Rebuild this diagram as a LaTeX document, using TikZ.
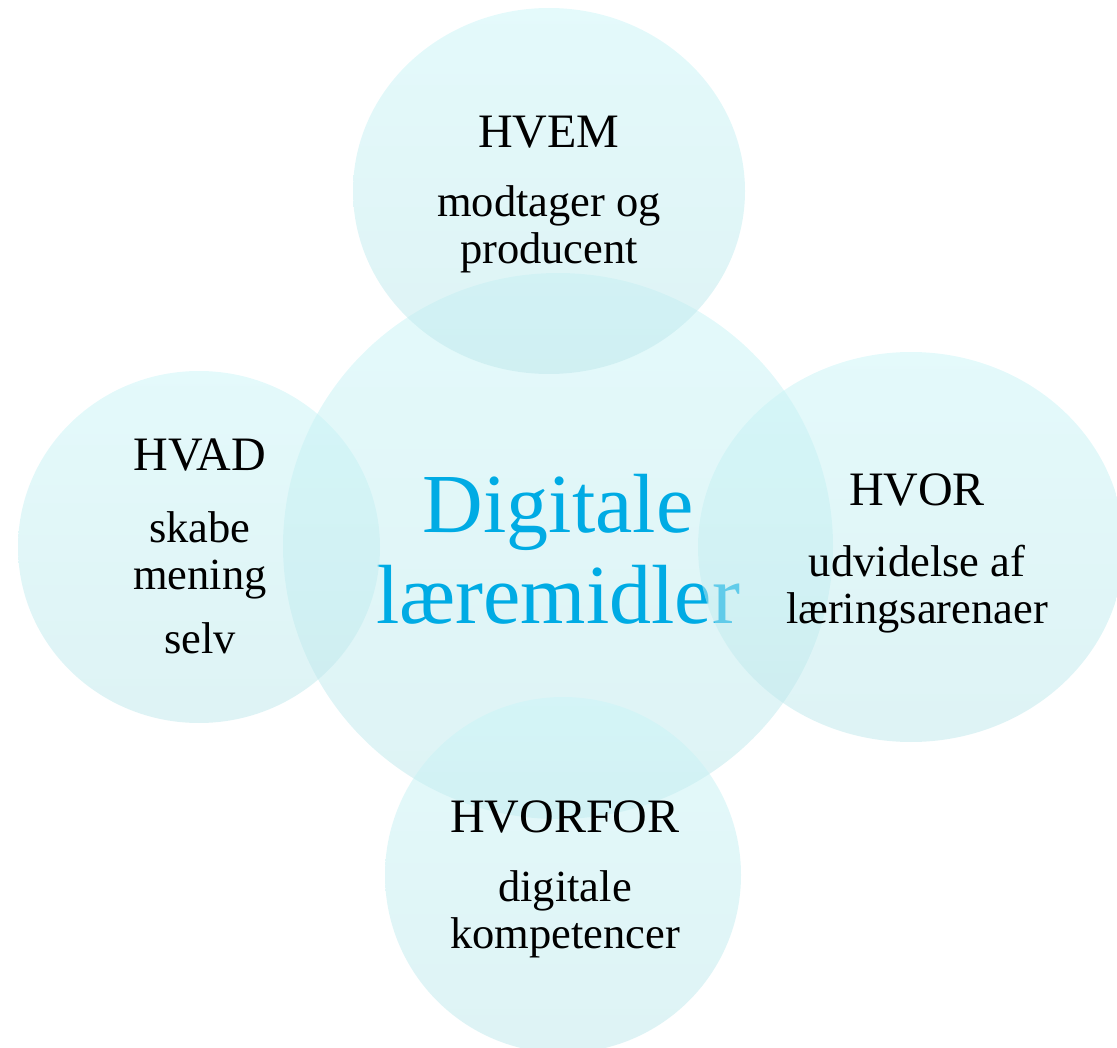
\documentclass[tikz,border=0pt]{standalone}
\usepackage{fontspec}
\setmainfont{Liberation Serif}
\usepackage{tikz}

\definecolor{bubbletop}{RGB}{201,245,247}
\definecolor{bubblebot}{RGB}{189,231,235}
\definecolor{titleblue}{RGB}{0,171,228}

\tikzset{
  bubble/.style={top color=bubbletop, bottom color=bubblebot, fill opacity=0.5, draw=none},
  head/.style={anchor=base, inner sep=0pt, font=\fontsize{48}{50}\selectfont},
  body/.style={anchor=base, inner sep=0pt, align=center, font=\fontsize{44.5}{47}\selectfont},
  big/.style={anchor=base, inner sep=0pt, align=center, text=titleblue, font=\fontsize{84}{91}\selectfont}
}

\begin{document}
\begin{tikzpicture}[x=1pt, y=-1pt]
\useasboundingbox (0,0) rectangle (1117,1048);
\clip (0,0) rectangle (1117,1048);
% centre bubble and its title
\shade[bubble] (558,546) ellipse [x radius=275, y radius=273];
\node[big] (midt) at (558,623) {Digitale\\læremidler};
% outer bubbles
\shade[bubble] (549,191) ellipse [x radius=196, y radius=183];
\shade[bubble] (199,547) ellipse [x radius=181, y radius=176];
\shade[bubble] (911,547) ellipse [x radius=213, y radius=195];
\shade[bubble] (563,875) ellipse [x radius=178, y radius=178];
% texts (base = last line)
\node[head] (hvem) at (549,148) {HVEM};
\node[body] (hvemtxt) at (549,264) {modtager og\\producent};
\node[head] (hvad) at (200,471) {HVAD};
\node[body] (hvadtxt) at (200,653) {skabe\\mening\\[17pt]selv};
\node[head] (hvor) at (917,505) {HVOR};
\node[body] (hvortxt) at (917,623) {udvidelse af\\læringsarenaer};
\node[head] (hvorfor) at (565,832) {HVORFOR};
\node[body] (hvorfortxt) at (565,948) {digitale\\kompetencer};
\end{tikzpicture}
\end{document}
